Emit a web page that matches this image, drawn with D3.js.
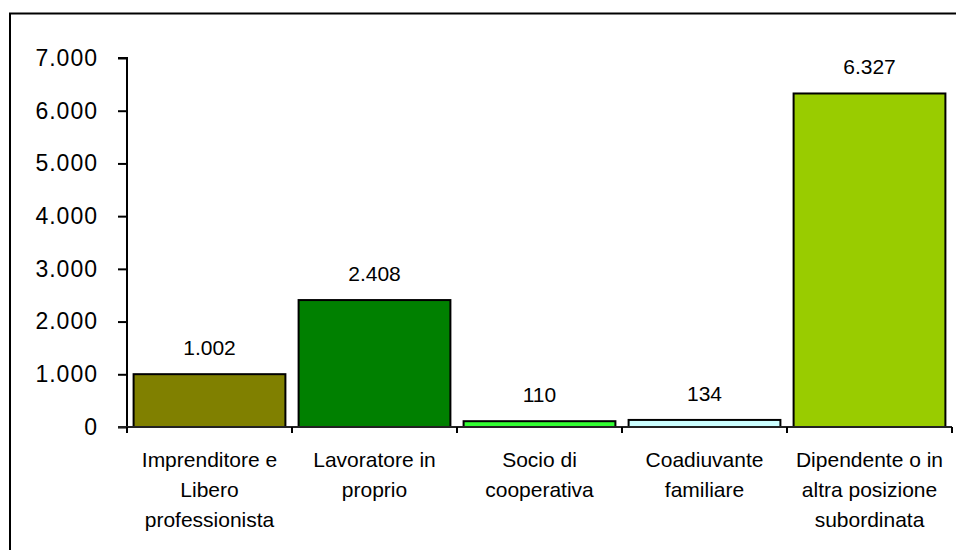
<!DOCTYPE html>
<html>
<head>
<meta charset="utf-8">
<script src="https://cdn.jsdelivr.net/npm/d3@7"></script>
<style>
  html, body { margin: 0; padding: 0; background: #fff; overflow: hidden; }
  svg { display: block; }
  text { font-family: "Liberation Sans", Arial, sans-serif; fill: #000; }
</style>
</head>
<body>
<svg id="chart" width="956" height="550"></svg>
<script>
// Occupati per posizione nella professione
const categories = [
  ["Imprenditore e", "Libero", "professionista"],
  ["Lavoratore in", "proprio"],
  ["Socio di", "cooperativa"],
  ["Coadiuvante", "familiare"],
  ["Dipendente o in", "altra posizione", "subordinata"]
];
const values = [1002, 2408, 110, 134, 6327];
const barColors = ["#808000", "#008000", "#33FF33", "#CCFFFF", "#99CC00"];
const yTicks = [0, 1000, 2000, 3000, 4000, 5000, 6000, 7000];

const fmt = v => d3.format(",")(v).replace(/,/g, ".");

const svg = d3.select("#chart");

// outer frame (right and bottom edges run past the page)
svg.append("path")
  .attr("d", "M10,560V13.5H970")
  .attr("fill", "none").attr("stroke", "#000").attr("stroke-width", 2);

const x0 = 127, x1 = 952, yBase = 427, yTop = 58;

const x = d3.scaleBand()
  .domain(d3.range(values.length))
  .range([x0, x1])
  .paddingInner(0.08)
  .paddingOuter(0.04);

const y = d3.scaleLinear().domain([0, 7000]).range([yBase, yTop]);

// bars
svg.append("g").selectAll("rect")
  .data(values)
  .join("rect")
  .attr("x", (d, i) => x(i))
  .attr("y", d => y(d))
  .attr("width", x.bandwidth())
  .attr("height", d => yBase - y(d))
  .attr("fill", (d, i) => barColors[i])
  .attr("stroke", "#000")
  .attr("stroke-width", 2);

// value labels
svg.append("g").selectAll("text")
  .data(values)
  .join("text")
  .attr("x", (d, i) => x(i) + x.bandwidth() / 2)
  .attr("y", d => y(d) - 19)
  .attr("text-anchor", "middle")
  .attr("font-size", 21)
  .text(d => fmt(d));

// y axis
const yAxis = d3.axisLeft(y)
  .tickValues(yTicks)
  .tickFormat(fmt)
  .tickSize(9)
  .tickPadding(8);
const gy = svg.append("g")
  .attr("transform", `translate(${x0},0)`)
  .call(yAxis);
gy.select(".domain").attr("stroke", "#000").attr("stroke-width", 2)
  .attr("d", `M-9,${yTop}H0V${yBase + 6}`);
gy.selectAll(".tick line").attr("stroke", "#000").attr("stroke-width", 2);
gy.selectAll(".tick text")
  .attr("font-size", 23)
  .attr("letter-spacing", 1)
  .attr("font-family", "Liberation Sans, Arial, sans-serif")
  .attr("fill", "#000")
  .attr("dx", -12);

// x axis with category separators
const gx = svg.append("g");
gx.append("line")
  .attr("x1", x0 - 9).attr("x2", x1)
  .attr("y1", yBase).attr("y2", yBase)
  .attr("stroke", "#222").attr("stroke-width", 2);
gx.selectAll("line.sep")
  .data(d3.range(values.length + 1))
  .join("line")
  .attr("class", "sep")
  .attr("x1", i => x0 + i * x.step())
  .attr("x2", i => x0 + i * x.step())
  .attr("y1", yBase).attr("y2", yBase + 6)
  .attr("stroke", "#000").attr("stroke-width", 2);

// category labels
const cat = svg.append("g").selectAll("text")
  .data(categories)
  .join("text")
  .attr("text-anchor", "middle")
  .attr("font-size", 21)
  .attr("transform", (d, i) => `translate(${x(i) + x.bandwidth() / 2},467)`);
cat.selectAll("tspan")
  .data(d => d)
  .join("tspan")
  .attr("x", 0)
  .attr("dy", (d, j) => j === 0 ? 0 : 30)
  .text(d => d);
</script>
</body>
</html>
